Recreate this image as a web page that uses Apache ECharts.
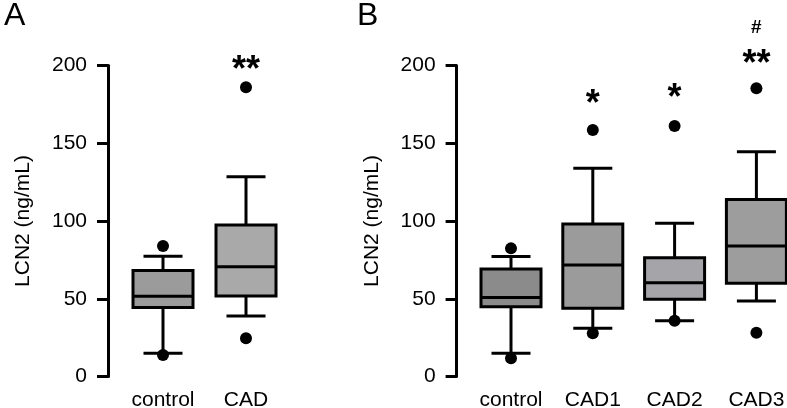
<!DOCTYPE html>
<html>
<head>
<meta charset="utf-8">
<script src="https://cdn.jsdelivr.net/npm/echarts@6/dist/echarts.min.js"></script>
<style>
  html, body { margin: 0; padding: 0; background: #ffffff; }
  #chart { width: 787px; height: 408px; }
</style>
</head>
<body>
<div id="chart"></div>
<script>
// ---------------- DATA ----------------
const yTicks = [0, 50, 100, 150, 200];
const yAxisTitle = 'LCN2 (ng/mL)';
const panelLabels = ['A', 'B'];

// Panel A
const categoriesA = ['control', 'CAD'];
const lowerWhiskerA = [14.9, 38.9];
const q1A = [44.3, 51.8];
const medianA = [51.6, 70.6];
const q3A = [68.1, 97.4];
const upperWhiskerA = [77.3, 128.5];
const outliersA = [['control', 83.9], ['control', 13.8], ['CAD', 186], ['CAD', 24.6]];
const annotationsA = [['CAD', 201.6, '**']];

// Panel B
const categoriesB = ['control', 'CAD1', 'CAD2', 'CAD3'];
const lowerWhiskerB = [14.9, 31.0, 35.9, 48.6];
const q1B = [44.9, 43.9, 49.6, 59.9];
const medianB = [50.8, 71.7, 60.3, 83.9];
const q3B = [69.1, 98.1, 76.4, 113.9];
const upperWhiskerB = [77.1, 133.9, 98.5, 144.6];
const outliersB = [['control', 82.4], ['control', 11.8], ['CAD1', 158.5], ['CAD1', 27.8],
                   ['CAD2', 161.1], ['CAD2', 35.9], ['CAD3', 185.3], ['CAD3', 28.2]];
const annotationsB = [['CAD1', 179.4, '*'], ['CAD2', 183.6, '*'], ['CAD3', 205.1, '**'], ['CAD3', 224.1, '#']];

// ---------------- STYLE ----------------
const fillA = ['#9b9b9b', '#a9a9a9'];
const fillB = ['#8b8b8b', '#9b9b9b', '#a5a5a9', '#9d9d9d'];
const FONT = '"Liberation Sans", Arial, Helvetica, sans-serif';
const INK = '#000000';
const BOX_W = 60, CAP_W = 39, LW = 3;

function makeRender(fills) {
  return function (params, api) {
    const i = api.value(0);
    const pLow = api.coord([i, api.value(1)]);
    const pQ1 = api.coord([i, api.value(2)]);
    const pMed = api.coord([i, api.value(3)]);
    const pQ3 = api.coord([i, api.value(4)]);
    const pHigh = api.coord([i, api.value(5)]);
    const cx = pMed[0];
    const ls = { stroke: '#000', lineWidth: LW, fill: null };
    return {
      type: 'group',
      children: [
        { type: 'line', shape: { x1: cx, y1: pHigh[1], x2: cx, y2: pQ3[1] }, style: ls },
        { type: 'line', shape: { x1: cx, y1: pQ1[1], x2: cx, y2: pLow[1] }, style: ls },
        { type: 'line', shape: { x1: cx - CAP_W / 2, y1: pHigh[1], x2: cx + CAP_W / 2, y2: pHigh[1] }, style: ls },
        { type: 'line', shape: { x1: cx - CAP_W / 2, y1: pLow[1], x2: cx + CAP_W / 2, y2: pLow[1] }, style: ls },
        { type: 'rect', shape: { x: cx - BOX_W / 2, y: pQ3[1], width: BOX_W, height: pQ1[1] - pQ3[1] },
          style: { fill: fills[i], stroke: '#000', lineWidth: LW } },
        { type: 'line', shape: { x1: cx - BOX_W / 2, y1: pMed[1], x2: cx + BOX_W / 2, y2: pMed[1] }, style: ls }
      ]
    };
  };
}

function boxData(cats, lo, q1, med, q3, hi) {
  return cats.map((c, i) => [i, lo[i], q1[i], med[i], q3[i], hi[i]]);
}

function annData(list) {
  return list.map(([c, v, t]) => {
    const isHash = t === '#';
    return {
      value: [c, v],
      label: {
        show: true, position: 'inside', formatter: t, color: INK, fontFamily: FONT,
        fontWeight: 'bold',
        fontSize: isHash ? 19 : 36, offset: isHash ? [0, 0] : [0, 8],
        align: 'center', verticalAlign: 'middle'
      }
    };
  });
}

const yAxisCommon = {
  type: 'value', min: yTicks[0], max: yTicks[yTicks.length - 1], interval: 50,
  offset: 13.5,
  name: yAxisTitle, nameLocation: 'middle', nameRotate: 90, nameGap: 74,
  nameTextStyle: { fontSize: 21, color: INK, fontFamily: FONT },
  axisLine: { show: true, lineStyle: { color: '#000', width: LW } },
  axisTick: { show: true, length: 11, lineStyle: { color: '#000', width: LW } },
  axisLabel: { fontSize: 21, color: INK, fontFamily: FONT, margin: 21 },
  splitLine: { show: false }
};
const xAxisCommon = {
  type: 'category', boundaryGap: true,
  axisLine: { show: false }, axisTick: { show: false },
  axisLabel: { fontSize: 21, color: INK, fontFamily: FONT, margin: 13, interval: 0 },
  splitLine: { show: false }
};

const chart = echarts.init(document.getElementById('chart'), null, { renderer: 'canvas' });
chart.setOption({
  animation: false,
  backgroundColor: '#ffffff',
  title: [
    { text: panelLabels[0], left: -1, top: -5, textStyle: { fontSize: 32, fontWeight: 'normal', color: INK, fontFamily: FONT } },
    { text: panelLabels[1], left: 352, top: -5, textStyle: { fontSize: 32, fontWeight: 'normal', color: INK, fontFamily: FONT } }
  ],
  grid: [
    { left: 121.5, top: 65.5, width: 166, height: 311, containLabel: false, outerBoundsMode: 'none' },
    { left: 470.1, top: 65.5, width: 327.2, height: 311, containLabel: false, outerBoundsMode: 'none' }
  ],
  xAxis: [
    Object.assign({}, xAxisCommon, { gridIndex: 0, data: categoriesA }),
    Object.assign({}, xAxisCommon, { gridIndex: 1, data: categoriesB })
  ],
  yAxis: [
    Object.assign({}, yAxisCommon, { gridIndex: 0 }),
    Object.assign({}, yAxisCommon, { gridIndex: 1 })
  ],
  series: [
    { type: 'custom', xAxisIndex: 0, yAxisIndex: 0, clip: false,
      data: boxData(categoriesA, lowerWhiskerA, q1A, medianA, q3A, upperWhiskerA),
      encode: { x: 0, y: [1, 2, 3, 4, 5] }, renderItem: makeRender(fillA), z: 2 },
    { type: 'custom', xAxisIndex: 1, yAxisIndex: 1, clip: false,
      data: boxData(categoriesB, lowerWhiskerB, q1B, medianB, q3B, upperWhiskerB),
      encode: { x: 0, y: [1, 2, 3, 4, 5] }, renderItem: makeRender(fillB), z: 2 },
    { type: 'scatter', xAxisIndex: 0, yAxisIndex: 0, clip: false, data: outliersA,
      symbol: 'circle', symbolSize: 12, itemStyle: { color: '#000', opacity: 1 }, z: 5 },
    { type: 'scatter', xAxisIndex: 1, yAxisIndex: 1, clip: false, data: outliersB,
      symbol: 'circle', symbolSize: 12, itemStyle: { color: '#000', opacity: 1 }, z: 5 },
    { type: 'scatter', xAxisIndex: 0, yAxisIndex: 0, clip: false, data: annData(annotationsA),
      symbol: 'circle', symbolSize: 1, itemStyle: { color: 'rgba(0,0,0,0)', opacity: 1 }, z: 6 },
    { type: 'scatter', xAxisIndex: 1, yAxisIndex: 1, clip: false, data: annData(annotationsB),
      symbol: 'circle', symbolSize: 1, itemStyle: { color: 'rgba(0,0,0,0)', opacity: 1 }, z: 6 }
  ]
});
</script>
</body>
</html>
